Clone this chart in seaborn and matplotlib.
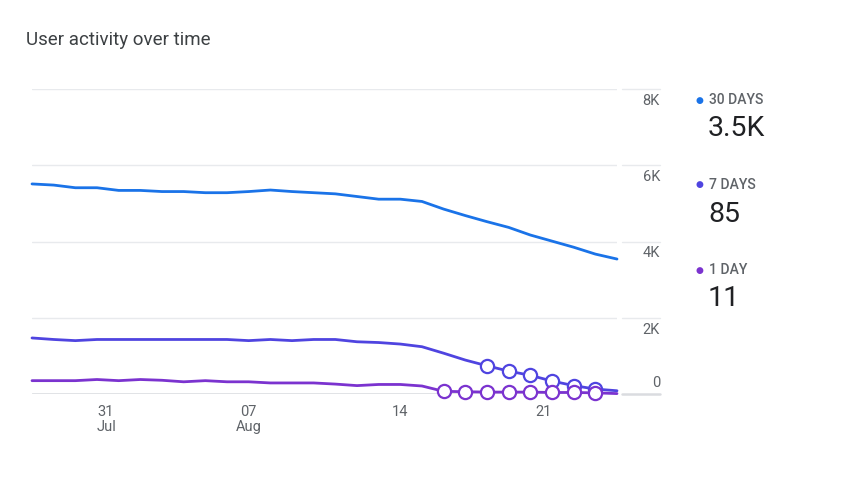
import matplotlib
matplotlib.use('Agg')
import matplotlib.pyplot as plt
import pandas as pd
import seaborn as sns

# data (thousands of users), one point per day
dates = pd.date_range('2023-07-28', '2023-08-24', freq='D')
users_30d = [5.51, 5.48, 5.41, 5.41, 5.34, 5.34, 5.31, 5.31, 5.28, 5.28,
             5.31, 5.35, 5.31, 5.28, 5.25, 5.18, 5.11, 5.11, 5.05, 4.85,
             4.68, 4.52, 4.37, 4.17, 4.01, 3.85, 3.67, 3.54]
users_7d = [1.47, 1.43, 1.40, 1.43, 1.43, 1.43, 1.43, 1.43, 1.43, 1.43,
            1.40, 1.43, 1.40, 1.43, 1.43, 1.37, 1.35, 1.31, 1.24, 1.07,
            0.89, 0.74, 0.60, 0.49, 0.34, 0.22, 0.13, 0.085]
users_1d = [0.35, 0.35, 0.35, 0.38, 0.35, 0.38, 0.36, 0.32, 0.35, 0.32,
            0.32, 0.29, 0.29, 0.29, 0.26, 0.22, 0.25, 0.25, 0.21, 0.07,
            0.06, 0.05, 0.05, 0.05, 0.04, 0.04, 0.03, 0.011]
# days drawn with an open circle (incomplete data)
marked_7d = pd.date_range('2023-08-18', '2023-08-23', freq='D')
marked_1d = pd.date_range('2023-08-16', '2023-08-23', freq='D')

series_names = ['30 DAYS', '7 DAYS', '1 DAY']
series_totals = ['3.5K', '85', '11']
colors = ['#1a73e8', '#4f44e0', '#7b33cf']

yticks = [0, 2, 4, 6, 8]
ytick_labels = ['0', '2K', '4K', '6K', '8K']
xtick_dates = pd.to_datetime(['2023-07-31', '2023-08-07', '2023-08-14', '2023-08-21'])
xtick_labels = ['31\nJul', '07\nAug', '14', '21']

df = pd.concat([
    pd.DataFrame({'date': dates, 'users': users_30d, 'series': '30 DAYS'}),
    pd.DataFrame({'date': dates, 'users': users_7d, 'series': '7 DAYS'}),
    pd.DataFrame({'date': dates, 'users': users_1d, 'series': '1 DAY'}),
])
df['marked'] = False
df.loc[(df['series'] == '7 DAYS') & df['date'].isin(marked_7d), 'marked'] = True
df.loc[(df['series'] == '1 DAY') & df['date'].isin(marked_1d), 'marked'] = True

sns.set_style('white')
plt.rcParams['font.family'] = ['Roboto', 'DejaVu Sans']

fig = plt.figure(figsize=(8.52, 4.82), dpi=100)
ax = fig.add_axes([32 / 852, 1 - 394 / 482, 585 / 852, 305 / 482])

palette = dict(zip(series_names, colors))
sns.lineplot(data=df, x='date', y='users', hue='series', hue_order=series_names,
             palette=palette, linewidth=2, legend=False, ax=ax)
for name in ['7 DAYS', '1 DAY']:
    sub = df[(df['series'] == name) & df['marked']]
    ax.plot(sub['date'], sub['users'], linestyle='none', marker='o', markersize=9.5,
            markerfacecolor='white', markeredgecolor=palette[name],
            markeredgewidth=1.6, clip_on=False, zorder=5)
for line in ax.lines:
    line.set_clip_on(False)

ax.set_xlim(dates[0], dates[-1])
ax.set_ylim(0, 8)
ax.set_yticks(yticks)
ax.set_yticklabels([])
ax.tick_params(axis='y', length=0)
ax.grid(axis='y', color='#e8eaed', linewidth=1)
ax.set_axisbelow(True)
for s in ax.spines.values():
    s.set_visible(False)
ax.axhline(0, color='#dadce0', linewidth=1.8, zorder=1)

# right side tick area: short grid segments and labels
ytrans = ax.get_yaxis_transform()
for v, lab in zip(yticks, ytick_labels):
    ax.axhline(v, xmin=1.0085, xmax=1.0735, color='#dadce0' if v == 0 else '#e8eaed',
               linewidth=1.8 if v == 0 else 1, clip_on=False)
    if v == 0:
        ax.annotate(lab, xy=(1.0735, v), xycoords=ytrans, xytext=(0, 3),
                    textcoords='offset points', ha='right', va='bottom',
                    fontsize=10.5, color='#5f6368')
    else:
        ax.annotate(lab, xy=(1.0735, v), xycoords=ytrans, xytext=(0, -3.5),
                    textcoords='offset points', ha='right', va='top',
                    fontsize=10.5, color='#5f6368')

ax.set_xticks(xtick_dates)
ax.set_xticklabels(xtick_labels, linespacing=1.05)
ax.get_xticklabels()[0].set_ha('left')
ax.get_xticklabels()[3].set_ha('right')
ax.tick_params(axis='x', length=5, width=1, color='#dadce0', pad=3,
               labelsize=10.5, labelcolor='#5f6368')
ax.set_xlabel('')
ax.set_ylabel('')

fig.text(26 / 852, 1 - 40 / 482, 'User activity over time', fontsize=13.5,
         color='#3c4043', va='center', ha='left')

# legend block with totals
for i, (name, total, col) in enumerate(zip(series_names, series_totals, colors)):
    y0 = 100 + 85 * i
    fig.text(699 / 852, 1 - y0 / 482, '\u25cf', color=col, fontsize=6.5,
             ha='center', va='center')
    fig.text(709 / 852, 1 - y0 / 482, name, color='#5f6368', fontsize=10,
             fontweight='medium', ha='left', va='center')
    fig.text(708 / 852, 1 - (y0 + 29) / 482, total, color='#202124', fontsize=20.5,
             ha='left', va='center')

fig.savefig('out.png', dpi=100)
